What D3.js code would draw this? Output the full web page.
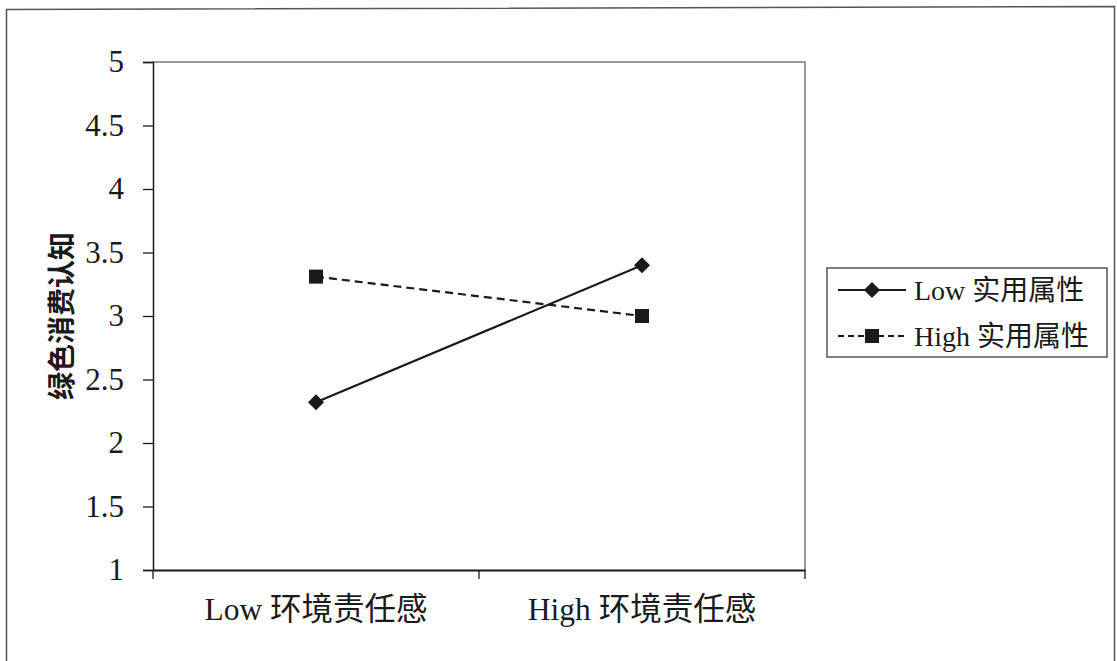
<!DOCTYPE html>
<html><head><meta charset="utf-8">
<script src="https://cdn.jsdelivr.net/npm/d3@7"></script>
<style>
html,body{margin:0;padding:0;background:#fff;}
svg{display:block;}
</style>
</head><body>
<svg id="chart" width="1117" height="661"></svg>
<script>
const categories = ["Low 环境责任感", "High 环境责任感"];
const seriesNames = ["Low 实用属性", "High 实用属性"];
const lowValues = [2.32, 3.40];
const highValues = [3.31, 3.00];
const yTicks = [1, 1.5, 2, 2.5, 3, 3.5, 4, 4.5, 5];
const yTitle = "绿色消费认知";

const svg = d3.select("#chart");
const latin = "'Liberation Serif','Times New Roman','Noto Sans CJK SC',serif";
const ink = "#1a1a1a";

// outer border
svg.append("path").attr("d", "M6.5,670 L6.5,9.5 L1114.5,6.5 L1114.5,670")
  .attr("fill", "none").attr("stroke", "#555").attr("stroke-width", 1.5);

const m = {left: 153, top: 62, right: 805, bottom: 570};
const x = d3.scaleBand().domain(categories).range([m.left, m.right]);
const y = d3.scaleLinear().domain([1, 5]).range([m.bottom, m.top]);

// plot frame (top/right)
svg.append("path").attr("d", `M${m.left},${m.top} L${m.right},${m.top} L${m.right},${m.bottom}`)
  .attr("fill", "none").attr("stroke", "#777").attr("stroke-width", 1.5);

// y axis
const yAxis = d3.axisLeft(y).tickValues(yTicks).tickSize(10).tickPadding(19).tickFormat(d3.format("~g"));
const gy = svg.append("g").attr("transform", `translate(${m.left},0)`).call(yAxis);
gy.select(".domain").attr("stroke", ink).attr("stroke-width", 1.5);
gy.selectAll(".tick line").attr("stroke", ink).attr("stroke-width", 1.3);
gy.selectAll(".tick text").attr("font-family", latin).attr("font-size", 31).attr("fill", ink);

// x axis
const xAxis = d3.axisBottom(x).tickSize(0).tickPadding(28);
const gx = svg.append("g").attr("transform", `translate(0,${m.bottom})`).call(xAxis);
gx.select(".domain").attr("stroke", ink).attr("stroke-width", 2);
gx.selectAll(".tick text").attr("font-family", latin).attr("font-size", 31.5).attr("fill", ink);
const bounds = [m.left, x(categories[1]), m.right];
gx.selectAll(".bt").data(bounds).enter().append("line")
  .attr("x1", d => d).attr("x2", d => d).attr("y1", 0).attr("y2", 9)
  .attr("stroke", ink).attr("stroke-width", 1.3);

// y title
svg.append("text").attr("transform", `translate(62,316) rotate(-90)`)
  .attr("text-anchor", "middle").attr("dy", "0.35em").attr("font-family", "'Noto Sans CJK SC',sans-serif")
  .attr("font-weight", 700).attr("font-size", 28).attr("fill", ink).text(yTitle);

const cx = d => x(d) + x.bandwidth() / 2;
const line = d3.line().x(d => cx(d.c)).y(d => y(d.v));
const lowData = categories.map((c, i) => ({c, v: lowValues[i]}));
const highData = categories.map((c, i) => ({c, v: highValues[i]}));

svg.append("path").datum(highData).attr("d", line).attr("fill", "none")
  .attr("stroke", ink).attr("stroke-width", 2.2).attr("stroke-dasharray", "8,5");
svg.append("path").datum(lowData).attr("d", line).attr("fill", "none")
  .attr("stroke", ink).attr("stroke-width", 2.2);

function drawDiamond(g, px, py) {
  g.append("path").attr("d", `M${px},${py-8} L${px+8},${py} L${px},${py+8} L${px-8},${py} Z`).attr("fill", ink);
}
function drawSquare(g, px, py) {
  g.append("rect").attr("x", px-7).attr("y", py-7).attr("width", 14).attr("height", 14).attr("fill", ink);
}
lowData.forEach(d => drawDiamond(svg, cx(d.c), y(d.v)));
highData.forEach(d => drawSquare(svg, cx(d.c), y(d.v)));

// legend
const lg = svg.append("g");
lg.append("rect").attr("x", 827).attr("y", 268).attr("width", 280).attr("height", 89)
  .attr("fill", "#fff").attr("stroke", "#555").attr("stroke-width", 1.5);
const rows = [290, 336];
lg.append("line").attr("x1", 838).attr("x2", 906).attr("y1", rows[0]).attr("y2", rows[0])
  .attr("stroke", ink).attr("stroke-width", 2.2);
drawDiamond(lg, 872, rows[0]);
lg.append("line").attr("x1", 838).attr("x2", 906).attr("y1", rows[1]).attr("y2", rows[1])
  .attr("stroke", ink).attr("stroke-width", 2.2).attr("stroke-dasharray", "6,4");
drawSquare(lg, 872, rows[1]);
seriesNames.forEach((n, i) => {
  lg.append("text").attr("x", 914).attr("y", rows[i]).attr("dy", "0.35em")
    .attr("font-family", latin).attr("font-size", 28).attr("fill", ink).text(n);
});
</script>
</body></html>
